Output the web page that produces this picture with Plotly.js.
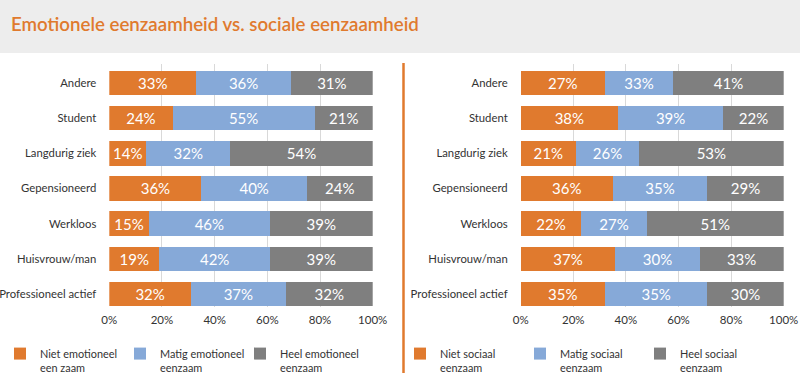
<!DOCTYPE html>
<html>
<head>
<meta charset="utf-8">
<script src="https://cdn.plot.ly/plotly-3.0.1.min.js"></script>
<style>html,body{margin:0;padding:0;background:#fff;overflow:hidden;}#chart{width:800px;height:382px;}</style>
</head>
<body>
<div id="chart"></div>
<script>
// Categories (top to bottom)
const categories = ["Andere", "Student", "Langdurig ziek", "Gepensioneerd", "Werkloos", "Huisvrouw/man", "Professioneel actief"];

// Emotionele eenzaamheid: printed labels (%)
const emoNietLabel  = [33, 24, 14, 36, 15, 19, 32];
const emoMatigLabel = [36, 55, 32, 40, 46, 42, 37];
const emoHeelLabel  = [31, 21, 54, 24, 39, 39, 32];
// Emotionele eenzaamheid: bar lengths as drawn (%)
const emoNietBar  = [33, 24, 14, 35, 15, 19, 31];
const emoMatigBar = [36, 54, 32, 40, 46, 42, 36];
const emoHeelBar  = [31, 22, 54, 25, 39, 39, 33];

// Sociale eenzaamheid: printed labels (%)
const socNietLabel  = [27, 38, 21, 36, 22, 37, 35];
const socMatigLabel = [33, 39, 26, 35, 27, 30, 35];
const socHeelLabel  = [41, 22, 53, 29, 51, 33, 30];
// Sociale eenzaamheid: bar lengths as drawn (%)
const socNietBar  = [32, 37, 21, 35, 23, 36, 32];
const socMatigBar = [26, 40, 24, 36, 25, 32, 39];
const socHeelBar  = [42, 23, 55, 29, 52, 32, 29];

const xTickVals = [0, 20, 40, 60, 80, 100];
const xTickText = ["0%", "20%", "40%", "60%", "80%", "100%"];

const legendEmo = ["Niet emotioneel<br>een zaam", "Matig emotioneel<br>eenzaam", "Heel emotioneel<br>eenzaam"];
const legendSoc = ["Niet sociaal<br>eenzaam", "Matig sociaal<br>eenzaam", "Heel sociaal<br>eenzaam"];

const ORANGE = "#e07a2e", BLUE = "#86a9d8", GRAY = "#7f7f7f";
const FONT = "Lato, 'Open Sans', sans-serif";

function pct(a){ return a.map(v => v + "%"); }

function mk(vals, labels, name, color, xa, ya, leg){
  return {
    type: "bar", orientation: "h",
    x: vals, y: categories, name: name,
    xaxis: xa, yaxis: ya, legend: leg,
    marker: {color: color, line: {width: 0}},
    text: pct(labels), textposition: "inside", insidetextanchor: "middle",
    textfont: {color: "#ffffff", size: 15, family: FONT},
    hoverinfo: "skip", cliponaxis: false
  };
}

const data = [
  mk(emoNietBar, emoNietLabel, legendEmo[0], ORANGE, "x", "y", "legend"),
  mk(emoMatigBar, emoMatigLabel, legendEmo[1], BLUE, "x", "y", "legend"),
  mk(emoHeelBar, emoHeelLabel, legendEmo[2], GRAY, "x", "y", "legend"),
  mk(socNietBar, socNietLabel, legendSoc[0], ORANGE, "x2", "y2", "legend2"),
  mk(socMatigBar, socMatigLabel, legendSoc[1], BLUE, "x2", "y2", "legend2"),
  mk(socHeelBar, socHeelLabel, legendSoc[2], GRAY, "x2", "y2", "legend2")
];

// Figure is slightly taller than the 373px window so the legend padding falls below the visible area
const W = 800, H = 382;
const yDom = [1 - 307/H, 1 - 64/H];
const yRange = [6.37, -0.54];

function xax(dom){
  return {
    domain: dom, range: [0, 100], tickvals: xTickVals, ticktext: xTickText,
    showgrid: true, gridcolor: "#d9d9d9", gridwidth: 1, zeroline: false,
    showline: false, ticks: "", ticklabelstandoff: 4,
    tickfont: {size: 11.5, color: "#333333", family: FONT}, fixedrange: true
  };
}
function yax(anchor){
  return {
    domain: yDom, range: yRange, anchor: anchor, type: "category",
    showgrid: false, zeroline: false, showline: false, ticks: "",
    ticklabelstandoff: 12,
    tickfont: {size: 11.3, color: "#333333", family: FONT}, fixedrange: true
  };
}

function legendCfg(x){
  return {
    orientation: "h", x: x, xanchor: "left", y: 0, yanchor: "bottom",
    bgcolor: "rgba(0,0,0,0)", font: {size: 10.9, color: "#333333", family: FONT},
    traceorder: "normal", entrywidth: 75, entrywidthmode: "pixels",
    itemwidth: 30, valign: "top", itemclick: false, itemdoubleclick: false, tracegroupgap: 0
  };
}

const layout = {
  width: W, height: H,
  margin: {l: 0, r: 0, t: 0, b: 0, pad: 0},
  paper_bgcolor: "#ffffff", plot_bgcolor: "rgba(0,0,0,0)",
  barmode: "stack", bargap: 0.30,
  font: {family: FONT, color: "#333333"},
  title: {
    text: "Emotionele eenzaamheid vs. sociale eenzaamheid",
    x: 11/W, xanchor: "left", xref: "paper",
    y: 1 - 24/H, yanchor: "middle", yref: "paper",
    font: {size: 18.7, color: ORANGE, family: FONT, weight: 600}
  },
  xaxis: xax([109.3/W, 372.7/W]),
  yaxis: yax("x"),
  xaxis2: Object.assign(xax([520.7/W, 783.7/W]), {anchor: "y2"}),
  yaxis2: yax("x2"),
  legend: legendCfg(0),
  legend2: legendCfg(400/W),
  showlegend: true,
  shapes: [
    {type: "rect", xref: "paper", yref: "paper", x0: 0, x1: 1, y0: 1 - 53/H, y1: 1,
     fillcolor: "#ededed", line: {width: 0}, layer: "below"},
    {type: "line", xref: "paper", yref: "paper", x0: 403.5/W, x1: 403.5/W, y0: 0, y1: 1 - 63/H,
     line: {color: ORANGE, width: 2.5}}
  ]
};

Plotly.newPlot("chart", data, layout, {displayModeBar: false, staticPlot: true});
</script>
</body>
</html>
